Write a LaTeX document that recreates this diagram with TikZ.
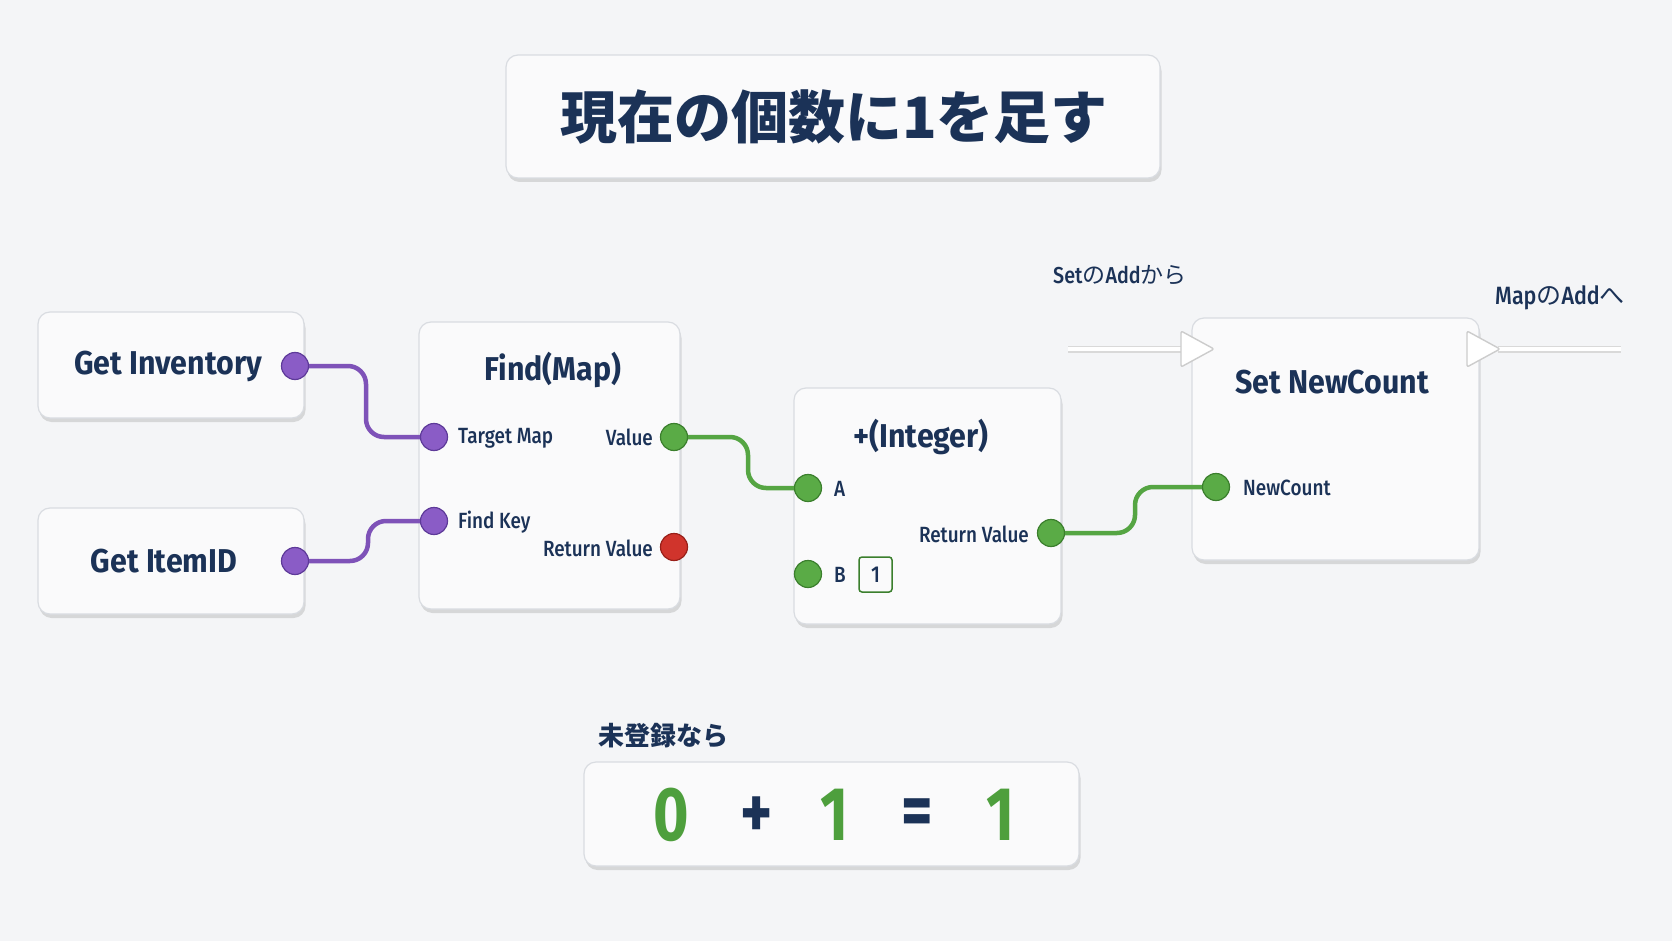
\documentclass[tikz,border=0pt]{standalone}
\usepackage{fontspec}
\usetikzlibrary{shadows,calc}
\setmainfont{Fira Sans}
\newfontfamily\cjk{Noto Sans CJK JP}
\newfontfamily\lat[FakeStretch=0.92]{Fira Sans}
\newfontfamily\latm[FakeStretch=0.86]{Fira Sans Medium}
\newfontfamily\latq[FakeStretch=0.8]{Fira Sans}
\definecolor{navy}{HTML}{1B3257}
\definecolor{bgc}{HTML}{F4F5F7}
\definecolor{boxfill}{HTML}{FAFAFB}
\definecolor{boxedge}{HTML}{D9DCE1}
\definecolor{wirep}{HTML}{7E52B8}
\definecolor{pinp}{HTML}{8A5CC6}
\definecolor{pinpd}{HTML}{5E3A99}
\definecolor{wireg}{HTML}{55A543}
\definecolor{ping}{HTML}{5AAB46}
\definecolor{pingd}{HTML}{3B7F2D}
\definecolor{pinr}{HTML}{D0342C}
\definecolor{pinrd}{HTML}{992019}
\definecolor{eqgreen}{HTML}{4E9F3D}
\tikzset{
  box/.style={draw=boxedge, fill=boxfill, rounded corners=12, line width=1.2,
    drop shadow={shadow xshift=1.5pt, shadow yshift=-4pt, opacity=0.12, fill=black}},
  ttl/.style={text=navy, font=\lat\bfseries\fontsize{33}{38}\selectfont, inner sep=0},
  lbl/.style={text=navy, font=\latm\fontsize{22}{26}\selectfont, inner sep=0},
  pinP/.style={circle, minimum size=27, inner sep=0, fill=pinp, draw=pinpd, line width=1.2},
  pinG/.style={circle, minimum size=27, inner sep=0, fill=ping, draw=pingd, line width=1.2},
  pinR/.style={circle, minimum size=27, inner sep=0, fill=pinr, draw=pinrd, line width=1.2},
  pw/.style={draw=wirep, line width=4.5, rounded corners=18},
  gw/.style={draw=wireg, line width=4.5, rounded corners=18},
  execline/.style={draw=gray!30, line width=7},
  execfill/.style={draw=white, line width=4},
  exectri/.style={draw=gray!40, fill=white, line width=1.4, rounded corners=2, line join=round},
  eqg/.style={text=eqgreen, font=\latq\bfseries\fontsize{76}{80}\selectfont, inner sep=0},
  eqn/.style={text=navy, font=\latq\bfseries\fontsize{76}{80}\selectfont, inner sep=0},
}
\begin{document}
\begin{tikzpicture}[x=1pt,y=-1pt]
\useasboundingbox (0,0) rectangle (1672,941);
\fill[bgc] (0,0) rectangle (1672,941);

% title
\node[box, minimum width=654, minimum height=123] (title) at (833,116.5) {};
\node[text=navy, font=\cjk\bfseries\fontsize{57}{60}\selectfont, inner sep=0] (titlet) at (834,117) {現在の個数に1を足す};

% boxes
\node[box, minimum width=266, minimum height=106] (gi) at (171,365) {};
\node[ttl] (git) at (168,366) {Get Inventory};
\node[box, minimum width=266, minimum height=106] (gid) at (171,561) {};
\node[ttl] (gidt) at (164,561) {Get ItemID};
\node[box, minimum width=261, minimum height=287] (find) at (549.5,465.5) {};
\node[ttl] (findt) at (553,370) {Find(Map)};
\node[box, minimum width=267, minimum height=236] (int) at (927.5,506) {};
\node[ttl] (intt) at (921,437) {+(Integer)};
\node[box, minimum width=287, minimum height=242] (set) at (1335.5,439) {};
\node[ttl] (sett) at (1332,382) {Set NewCount};

% exec pins
\coordinate (execin) at (1068,349);
\coordinate (execinb) at (1182,349);
\coordinate (execoutb) at (1498,349);
\coordinate (execout) at (1621,349);
\draw[execline] (execin) -- (execinb);
\draw[execfill] (execin) -- (execinb);
\draw[execline] (execoutb) -- (execout);
\draw[execfill] (execoutb) -- (execout);
\draw[exectri] (1181,331) -- (1214,349) -- (1181,367) -- cycle;
\draw[exectri] (1467,331) -- (1500,349) -- (1467,367) -- cycle;
\node[lbl, font=\latm\fontsize{23}{27}\selectfont] (execinl) at (1120,275) {Set{\cjk の}Add{\cjk から}};
\node[lbl, font=\latm\fontsize{25}{29}\selectfont] (execoutl) at (1560,298) {Map{\cjk の}Add{\cjk へ}};

% pins
\node[pinP] (gip) at (295,366) {};
\node[pinP] (gidp) at (295,561) {};
\node[pinP] (tmp) at (434,437) {};
\node[pinP] (fkp) at (434,521) {};
\node[pinG] (valp) at (674,437) {};
\node[pinR] (rvp) at (674,547) {};
\node[pinG] (ap) at (808,488) {};
\node[pinG] (bp) at (808,574) {};
\node[pinG] (irvp) at (1051,533) {};
\node[pinG] (ncp) at (1216,487) {};

% pin labels
\node[lbl, anchor=west] (tml) at (458,438) {Target Map};
\node[lbl, anchor=east] (vall) at (653,437) {Value};
\node[lbl, anchor=west] (fkl) at (458,522) {Find Key};
\node[lbl, anchor=east] (rvl) at (653,548) {Return Value};
\node[lbl, anchor=west] (al) at (834,489) {A};
\node[lbl, anchor=west] (bl) at (834,575) {B};
\node[lbl, anchor=east] (irvl) at (1029,534) {Return Value};
\node[lbl, anchor=west] (ncl) at (1243,488) {NewCount};
\node[draw=pingd, line width=1.5, rounded corners=3, minimum width=33, minimum height=35, inner sep=0, text=navy, font=\latm\fontsize{23}{26}\selectfont] (bval) at (875.5,574.5) {1};

% wires
\coordinate (m1) at (366,0);
\coordinate (m2) at (368,0);
\coordinate (m3) at (748,0);
\coordinate (m4) at (1135,0);
\draw[pw] (gip.east) -- (gip.east -| m1) -- (tmp.west -| m1) -- (tmp.west);
\draw[pw] (gidp.east) -- (gidp.east -| m2) -- (fkp.west -| m2) -- (fkp.west);
\draw[gw] (valp.east) -- (valp.east -| m3) -- (ap.west -| m3) -- (ap.west);
\draw[gw] (irvp.east) -- (irvp.east -| m4) -- (ncp.west -| m4) -- (ncp.west);

% bottom
\node[text=navy, font=\cjk\bfseries\fontsize{26}{30}\selectfont, inner sep=0, anchor=west] (note) at (598,736) {未登録なら};
\node[box, minimum width=495, minimum height=104] (eq) at (831.5,814) {};
\node[eqg] (e0) at (671,815) {0};
\node[eqn] (eplus) at (757,818) {+};
\node[eqg] (e1) at (835,815) {1};
\node[eqn] (eeq) at (917,818) {=};
\node[eqg] (e2) at (1001,815) {1};
\end{tikzpicture}
\end{document}
